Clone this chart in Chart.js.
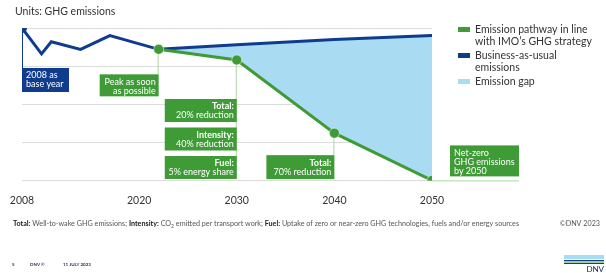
<!DOCTYPE html>
<html>
<head>
<meta charset="utf-8">
<script src="https://cdn.jsdelivr.net/npm/chart.js@4"></script>
<style>
body { margin: 0; background: #fff; }
#wrap { width: 606px; height: 273px; position: relative; }
</style>
</head>
<body>
<div id="wrap"><canvas id="myChart"></canvas></div>
<script>
// business-as-usual emissions, index 2008 = 100
var bauYears = [2008, 2010, 2011, 2014, 2017, 2022, 2030, 2040, 2050];
var bauValues = [100, 83, 91, 86, 95, 86, 89, 92.5, 95];
// IMO pathway
var pathYears = [2022, 2030, 2040, 2050];
var pathValues = [86, 79, 31, 0];
var tickYears = [2008, 2020, 2030, 2040, 2050];
var seriesNames = ['Emission pathway in line\nwith IMO\u2019s GHG strategy', 'Business-as-usual\nemissions', 'Emission gap'];

var baseNote = ['2008 as', 'base year'];
var peakNote = ['Peak as soon', 'as possible'];
var note2030 = [['Total:', '20% reduction'], ['Intensity:', '40% reduction'], ['Fuel:', '5% energy share']];
var note2040 = ['Total:', '70% reduction'];
var note2050 = ['Net-zero', 'GHG emissions', 'by 2050'];

var GREEN = '#3f9b36';
var LIGHTGREEN = '#a6d8a0';
var BLUE = '#0f3c8e';
var GAP = '#a9dcf3';
var FONT = 'Lato, "Open Sans", sans-serif';

Chart.defaults.font.family = FONT;

function toPoints(xs, ys) {
    return xs.map(function (x, i) { return { x: x, y: ys[i] }; });
}

function box(c, left, top, w, h, color, lines, align, boldFirst) {
    c.fillStyle = color;
    c.fillRect(left, top, w, h);
    c.fillStyle = '#fff';
    c.textBaseline = 'middle';
    c.textAlign = align;
    var tx = align === 'right' ? left + w - 3 : left + 4;
    for (var i = 0; i < lines.length; i++) {
        c.font = (boldFirst && i === 0 ? 'bold ' : '') + '9px ' + FONT;
        c.fillText(lines[i], tx, top + 7.5 + i * 9);
    }
}

var notesPlugin = {
    id: 'notes',
    beforeDatasetsDraw: function (chart) {
        var c = chart.ctx;
        var g = chart.getDatasetMeta(0).data;
        var b = chart.getDatasetMeta(1).data;
        c.save();
        c.lineWidth = 1;
        c.strokeStyle = BLUE;
        c.beginPath(); c.moveTo(b[0].x + 0.5, b[0].y); c.lineTo(b[0].x + 0.5, b[0].y + 40); c.stroke();
        c.strokeStyle = LIGHTGREEN;
        c.beginPath(); c.moveTo(g[0].x - 0.5, g[0].y); c.lineTo(g[0].x - 0.5, g[0].y + 25); c.stroke();
        c.beginPath(); c.moveTo(g[1].x - 0.5, g[1].y); c.lineTo(g[1].x - 0.5, g[1].y + 119); c.stroke();
        c.beginPath(); c.moveTo(g[2].x - 0.5, g[2].y); c.lineTo(g[2].x - 0.5, g[2].y + 22); c.stroke();
        c.beginPath(); c.moveTo(g[3].x, g[3].y + 0.5); c.lineTo(g[3].x + 87, g[3].y + 0.5); c.stroke();
        c.restore();
    },
    afterDraw: function (chart) {
        var c = chart.ctx;
        var g = chart.getDatasetMeta(0).data;
        var b = chart.getDatasetMeta(1).data;
        c.save();
        box(c, b[0].x, b[0].y + 40, 47, 24, BLUE, baseNote, 'left', false);
        box(c, g[0].x - 59, g[0].y + 25, 59, 22, GREEN, peakNote, 'right', false);
        for (var i = 0; i < note2030.length; i++) {
            box(c, g[1].x - 72, g[1].y + 39 + i * 28.5, 72, 23, GREEN, note2030[i], 'right', true);
        }
        box(c, g[2].x - 68, g[2].y + 22, 68, 24, GREEN, note2040, 'right', true);
        box(c, g[3].x + 18, g[3].y - 35, 69, 31, GREEN, note2050, 'left', false);

        // title
        c.fillStyle = '#333';
        c.textAlign = 'left';
        c.textBaseline = 'middle';
        c.font = '10.5px ' + FONT;
        c.fillText('Units: GHG emissions', 15, 12);

        // legend
        var colors = [GREEN, BLUE, GAP];
        var ly = 30;
        for (var k = 0; k < seriesNames.length; k++) {
            var parts = seriesNames[k].split('\n');
            c.fillStyle = colors[k];
            c.fillRect(458, ly - 3, 12, 5);
            c.fillStyle = '#333';
            c.font = '10.5px ' + FONT;
            for (var j = 0; j < parts.length; j++) {
                c.fillText(parts[j], 475, ly + j * 12);
            }
            ly += parts.length * 12 + 2;
        }

        // footnote
        var pieces = [
            ['Total:', true], [' Well-to-wake GHG emissions; ', false], ['Intensity:', true], [' CO', false], ['2', 'sub'],
            [' emitted per transport work; ', false], ['Fuel:', true],
            [' Uptake of zero or near-zero GHG technologies, fuels and/or energy sources', false]
        ];
        var fx = 13;
        for (var p = 0; p < pieces.length; p++) {
            var sub = pieces[p][1] === 'sub';
            c.font = (pieces[p][1] === true ? 'bold ' : '') + (sub ? '5px ' : '7.2px ') + FONT;
            c.fillStyle = pieces[p][1] === true ? '#222' : '#555';
            c.fillText(pieces[p][0], fx, sub ? 226 : 224);
            fx += c.measureText(pieces[p][0]).width;
        }
        c.font = '7.2px ' + FONT;
        c.fillStyle = '#555';
        c.textAlign = 'right';
        c.fillText('\u00a9DNV 2023', 600, 224);

        // page footer
        c.textAlign = 'left';
        c.fillStyle = '#1b2a55';
        c.font = 'bold 4.5px ' + FONT;
        c.fillText('5', 12, 265);
        c.fillText('DNV \u00a9', 30, 265);
        c.fillText('11 JULY 2023', 63, 265);

        // logo
        c.fillStyle = '#a9dcf3';
        c.fillRect(564, 255, 40, 4);
        c.fillStyle = '#0f3c8e';
        c.fillRect(564, 260, 40, 1);
        c.fillStyle = '#3f9b36';
        c.fillRect(564, 261.5, 40, 1);
        c.fillStyle = '#0f3c8e';
        c.fillRect(564, 263, 40, 1);
        c.fillStyle = '#0f204b';
        c.font = '8px ' + FONT;
        c.textAlign = 'right';
        c.fillText('DNV', 604, 269);
        c.restore();
    }
};

var ctx = document.getElementById('myChart');
new Chart(ctx, {
    type: 'line',
    data: {
        datasets: [{
            label: seriesNames[0],
            data: toPoints(pathYears, pathValues),
            borderColor: GREEN,
            backgroundColor: GAP,
            borderWidth: 3,
            pointRadius: 5,
            pointBackgroundColor: GREEN,
            pointBorderColor: 'rgba(255,255,255,0.5)',
            pointBorderWidth: 1,
            fill: { target: 1 },
            tension: 0
        }, {
            label: seriesNames[1],
            data: toPoints(bauYears, bauValues),
            borderColor: BLUE,
            borderWidth: 3,
            pointRadius: bauYears.map(function (y, i) { return i === 0 ? 5 : 0; }),
            pointBackgroundColor: BLUE,
            pointBorderWidth: 0,
            fill: false,
            tension: 0
        }]
    },
    options: {
        responsive: true,
        maintainAspectRatio: false,
        animation: false,
        layout: { padding: { left: 22, right: 174, top: 28, bottom: 60 } },
        plugins: {
            legend: { display: false },
            tooltip: { enabled: false },
            filler: { drawTime: 'beforeDatasetsDraw' }
        },
        scales: {
            x: {
                type: 'linear',
                min: 2008,
                max: 2050,
                afterBuildTicks: function (axis) {
                    axis.ticks = tickYears.map(function (v) { return { value: v }; });
                },
                grid: { display: false },
                border: { display: false },
                ticks: {
                    padding: 6,
                    maxRotation: 0,
                    autoSkip: false,
                    color: '#333',
                    font: { size: 10.5 },
                    callback: function (v) { return String(v); }
                }
            },
            y: {
                min: 0,
                max: 100,
                ticks: { display: false, stepSize: 25 },
                grid: { color: '#dcdcdc', drawTicks: false, lineWidth: 1 },
                border: { display: false }
            }
        }
    },
    plugins: [notesPlugin]
});
</script>
</body>
</html>
